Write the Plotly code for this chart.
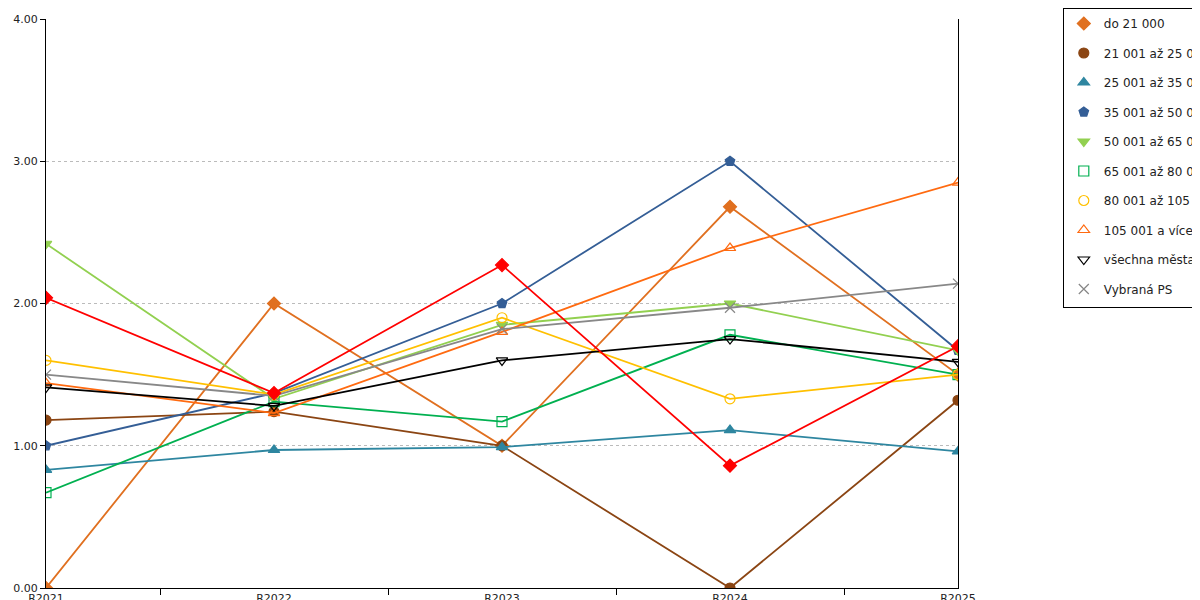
import plotly.graph_objects as go

years = ["R2021", "R2022", "R2023", "R2024", "R2025"]
names = ["do 21 000", "21 001 až 25 000", "25 001 až 35 000", "35 001 až 50 000",
         "50 001 až 65 000", "65 001 až 80 000", "80 001 až 105 000", "105 001 a více",
         "všechna města", "Vybraná PS", "Údaje vašeho úřadu"]
s_do21 = [0.00, 2.00, 1.00, 2.68, 1.50]
s_21_25 = [1.18, 1.24, 1.00, 0.00, 1.32]
s_25_35 = [0.83, 0.97, 0.99, 1.11, 0.96]
s_35_50 = [1.00, 1.37, 2.00, 3.00, 1.67]
s_50_65 = [2.42, 1.33, 1.85, 2.00, 1.67]
s_65_80 = [0.67, 1.31, 1.17, 1.78, 1.50]
s_80_105 = [1.60, 1.36, 1.90, 1.33, 1.50]
s_105 = [1.44, 1.23, 1.80, 2.39, 2.85]
s_all = [1.41, 1.28, 1.60, 1.75, 1.59]
s_ps = [1.50, 1.35, 1.82, 1.97, 2.14]
s_urad = [2.04, 1.37, 2.27, 0.86, 1.70]
series = [s_do21, s_21_25, s_25_35, s_35_50, s_50_65, s_65_80, s_80_105, s_105, s_all, s_ps, s_urad]

colors = ["#E07020", "#8B4513", "#2E86A0", "#345E96", "#92D050", "#00B050",
          "#FFC000", "#FF6A10", "#000000", "#888888", "#FF0000"]
symbols = ["diamond", "circle", "triangle-up", "pentagon", "triangle-down", "square-open",
           "circle-open", "triangle-up-open", "triangle-down-open", "x-thin-open", "diamond"]

fig = go.Figure()
xs = list(range(len(years)))
for i, (n, s, c, m) in enumerate(zip(names, series, colors, symbols)):
    fig.add_trace(go.Scatter(x=xs, y=s, name=n, mode="lines+markers", showlegend=False,
                             legendgroup=str(i),
                             line=dict(color=c, width=1.8),
                             marker=dict(symbol=m, size=10, color=c, line=dict(color=c, width=1.2))))
    fig.add_trace(go.Scatter(x=[None], y=[None], name=n, mode="markers", legendgroup=str(i),
                             marker=dict(symbol=m, size=10, color=c, line=dict(color=c, width=1.2))))

fig.update_layout(
    width=1200, height=600, paper_bgcolor="white", plot_bgcolor="white",
    margin=dict(l=38, r=250, t=11, b=20, autoexpand=False),
    font=dict(family="DejaVu Sans", size=12, color="#222"),
    legend=dict(xref="container", yref="container", x=0.879, y=1.0, xanchor="left", yanchor="top",
                bordercolor="black", borderwidth=1, tracegroupgap=10.5, font=dict(size=12),
                itemwidth=30),
    xaxis=dict(range=[0, 4], tickvals=xs, ticktext=years, showgrid=False, zeroline=False,
               showline=True, linecolor="black", ticks="", tickfont=dict(size=11), automargin=False,
               minor=dict(tickvals=[0.5, 1.5, 2.5, 3.5], ticks="outside", ticklen=6, tickcolor="black")),
    yaxis=dict(range=[0, 4], dtick=1, tickformat=".2f", showgrid=True, gridcolor="#bbb",
               griddash="dot", zeroline=False, showline=True, linecolor="black", mirror=True,
               automargin=False, ticks="outside", ticklen=5, tickcolor="black", tickfont=dict(size=11)),
)
fig.write_html("out.html")
